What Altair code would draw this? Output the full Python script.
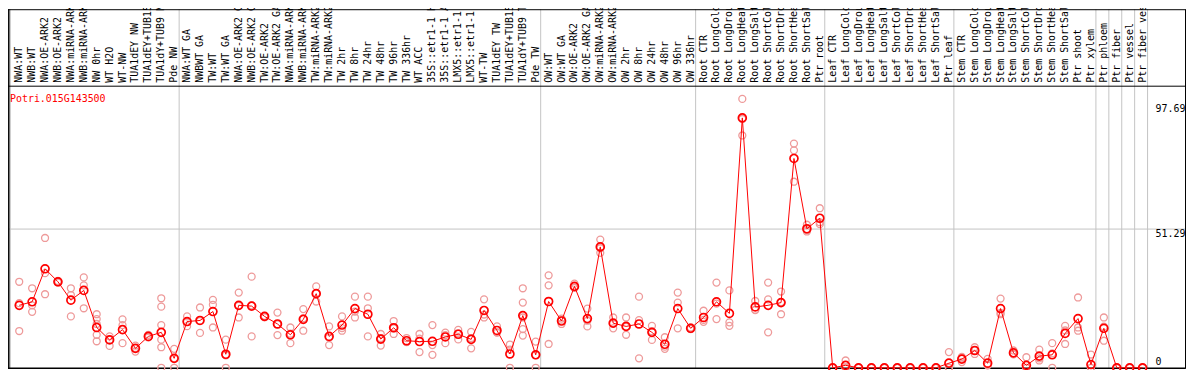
import altair as alt
import pandas as pd

# ---------------- data ----------------
gene = "Potri.015G143500"

samples = [
    "NWA:WT", "NWB:WT", "NWA:OE-ARK2", "NWB:OE-ARK2", "NWA:miRNA-ARK2", "NWB:miRNA-ARK2",
    "NW 0hr", "WT H2O", "WT-NW", "TUA1dEY NW", "TUA1dEY+TUB15 NW", "TUA1dY+TUB9 NW", "Pde NW",
    "NWA:WT GA", "NWBWT GA", "TW:WT", "TW:WT GA", "NWA:OE-ARK2 GA", "NWB:OE-ARK2 GA",
    "TW:OE-ARK2", "TW:OE-ARK2 GA", "NWA:miRNA-ARK2", "NWB:miRNA-ARK2", "TW:miRNA-ARK2",
    "TW:miRNA-ARK2 ", "TW 2hr", "TW 8hr", "TW 24hr", "TW 48hr", "TW 96hr", "TW 336hr",
    "WT ACC", "35S::etr1-1 H2O", "35S::etr1-1 ACC", "LMX5::etr1-1 H2O", "LMX5::etr1-1 ACC",
    "WT-TW", "TUA1dEY TW", "TUA1dEY+TUB15 TW", "TUA1dY+TUB9 TW", "Pde TW",
    "OW:WT", "OW:WT GA", "OW:OE-ARK2", "OW:OE-ARK2 GA", "OW:miRNA-ARK2", "OW:miRNA-ARK2 ",
    "OW 2hr", "OW 8hr", "OW 24hr", "OW 48hr", "OW 96hr", "OW 336hr",
    "Root CTR", "Root LongCold", "Root LongDrought", "Root LongHeat", "Root LongSalt",
    "Root ShortCold", "Root ShortDrought", "Root ShortHeat", "Root ShortSalt", "Ptr root",
    "Leaf CTR", "Leaf LongCold", "Leaf LongDrought", "Leaf LongHeat", "Leaf LongSalt",
    "Leaf ShortCold", "Leaf ShortDrought", "Leaf ShortHeat", "Leaf ShortSalt", "Ptr leaf",
    "Stem CTR", "Stem LongCold", "Stem LongDrought", "Stem LongHeat", "Stem LongSalt",
    "Stem ShortCold", "Stem ShortDrought", "Stem ShortHeat", "Stem ShortSalt", "Ptr shoot",
    "Ptr xylem", "Ptr phloem", "Ptr fiber", "Ptr vessel", "Ptr fiber vessel",
]

means = [
    23.1, 24.4, 36.6, 31.8, 25.0, 28.6, 14.9, 10.3, 14.1, 7.2, 11.6, 13.1, 3.5,
    17.1, 17.5, 20.8, 5.0, 23.1, 22.8, 19.0, 16.2, 12.2, 17.9, 27.4, 11.6, 15.8,
    21.9, 19.8, 10.6, 14.8, 10.0, 9.7, 9.8, 11.4, 12.4, 10.5, 21.2, 13.8, 5.1, 19.3, 4.8,
    24.5, 17.3, 30.1, 18.2, 44.7, 16.5, 15.3, 16.2, 13.1, 8.7, 21.9, 14.6,
    18.6, 24.4, 20.1, 92.4, 22.5, 23.1, 24.1, 77.4, 51.4, 55.3,
    0.0, 0.9, 0.0, 0.0, 0.0, 0.0, 0.0, 0.0, 0.0, 1.7,
    3.2, 6.4, 1.7, 21.9, 5.5, 0.9, 4.3, 4.8, 12.7, 18.2, 1.2,
    14.6, 0.0, 0.0, 0.0,
]

replicates = [
    [31.8, 23.9, 13.6], [29.4, 23.1, 20.7], [48.0, 35.0, 27.2], [32.1, 31.8, 31.5],
    [29.4, 26.9, 19.0], [33.4, 30.5, 22.0], [19.8, 18.0, 16.2, 12.2, 9.8], [11.6, 10.3, 8.1],
    [17.9, 15.8, 9.1], [8.2, 7.3, 6.0], [12.2, 11.3, 11.3], [25.7, 22.6, 15.8, 10.4, 7.6, 0.0],
    [7.0, 3.5, 0.0],
    [19.0, 17.0, 15.4], [22.3, 17.3, 12.9], [25.1, 23.3, 14.9], [10.4, 4.6, 0.0],
    [27.8, 22.9, 18.6], [33.7, 23.1, 11.6], [19.2, 19.1, 18.7], [20.4, 16.1, 12.1],
    [14.9, 12.6, 9.1], [21.7, 18.3, 13.7], [30.1, 27.6, 24.5], [15.3, 11.1, 8.4],
    [19.0, 14.7, 13.7], [26.3, 20.8, 18.6], [26.3, 22.0, 11.6], [12.5, 11.0, 8.2],
    [17.3, 14.6, 12.5], [11.0, 9.6, 9.5], [12.5, 10.8, 5.8], [15.8, 8.4, 4.8],
    [13.0, 12.1, 9.1], [14.0, 12.7, 10.5], [13.3, 11.0, 7.2], [25.3, 19.7, 18.6],
    [15.3, 13.1, 13.0], [8.6, 6.7, 0.0], [29.4, 24.1, 18.6, 14.3, 11.9], [9.7, 4.7, 0.0],
    [34.2, 30.5, 8.8], [18.2, 17.5, 16.2], [31.1, 29.7, 29.5], [21.9, 17.4, 15.3],
    [47.4, 44.2, 42.5], [18.6, 16.3, 14.6], [18.6, 15.1, 12.2], [26.3, 17.6, 3.5],
    [15.5, 13.5, 10.3], [11.3, 7.8, 7.0], [27.8, 24.1, 14.6], [14.9, 14.6, 14.3],
    [21.1, 17.7, 17.0], [31.5, 23.7, 18.0], [28.6, 16.8, 15.5], [99.4, 92.0, 85.9],
    [24.7, 21.5, 21.3], [31.5, 25.3, 13.1], [28.2, 24.3, 19.8], [82.9, 80.4, 68.8],
    [52.9, 50.9, 50.4], [59.0, 53.8, 53.1],
    [0.0, 0.0, 0.0], [2.7, 0.0, 0.0], [0.0, 0.0, 0.0], [0.0, 0.0, 0.0], [0.0, 0.0, 0.0],
    [0.0, 0.0, 0.0], [0.0, 0.0, 0.0], [0.0, 0.0, 0.0], [0.0, 0.0, 0.0], [5.8, 0.0, 0.0],
    [4.0, 3.5, 2.1], [7.6, 6.4, 5.1], [3.3, 1.0, 0.9], [25.6, 20.3, 19.8], [6.4, 5.1, 5.0],
    [3.9, 0.0, 0.0], [6.7, 3.5, 2.7], [9.1, 5.3, 0.0], [15.5, 13.8, 8.8], [26.0, 14.9, 13.7],
    [4.9, 0.0, 0.0],
    [18.6, 15.2, 10.0], [0.0, 0.0, 0.0], [0.0, 0.0, 0.0], [0.0, 0.0, 0.0],
]

group_sizes = [13, 28, 12, 10, 10, 11, 1, 1, 1, 1]
y_ticks = [97.69, 51.29, 0]
grid_value = [51.29]

# ---------------- layout ----------------
W, H = 1186, 362
FONT = "DejaVu Sans Mono"
n = len(samples)

x_scale = alt.Scale(domain=[0, n - 1], range=[11.3, 1142.3], nice=False, zero=False)
y_scale = alt.Scale(domain=[0, 97.69], range=[361, 95], nice=False, zero=False)


def X(f):
    return alt.X(f, type="quantitative", scale=x_scale, axis=None)


def Y(f):
    return alt.Y(f, type="quantitative", scale=y_scale, axis=None)


mean_df = pd.DataFrame({"i": list(range(n)), "sample": samples, "value": means})
rep_df = pd.DataFrame(
    [{"i": i, "value": v} for i, reps in enumerate(replicates) for v in reps]
)

bounds = [-0.69]
c = 0
for g in group_sizes:
    c += g
    bounds.append(c - 1 + 0.385)
grid_df = pd.DataFrame({"b": bounds})
hgrid_df = pd.DataFrame({"v": grid_value})
tick_df = pd.DataFrame({"v": y_ticks, "label": [str(t) if t else "0" for t in y_ticks]})
dummy = pd.DataFrame({"a": [0]})

vgrid = alt.Chart(grid_df).mark_rule(color="#c4c4c4", strokeWidth=1).encode(
    x=X("b"), y=alt.value(0), y2=alt.value(H)
)
hgrid = alt.Chart(hgrid_df).mark_rule(color="#c4c4c4", strokeWidth=1).encode(
    y=Y("v"), x=alt.value(0), x2=alt.value(W - 1)
)

frame_top = alt.Chart(dummy).mark_rule(color="black", strokeWidth=1).encode(
    x=alt.value(0), x2=alt.value(W - 0.5), y=alt.value(0.5)
)
frame_sep = alt.Chart(dummy).mark_rule(color="black", strokeWidth=1).encode(
    x=alt.value(0), x2=alt.value(W - 0.5), y=alt.value(77.5)
)
frame_bot = alt.Chart(dummy).mark_rule(color="black", strokeWidth=1.5).encode(
    x=alt.value(0), x2=alt.value(W - 0.5), y=alt.value(361.5)
)
frame_left = alt.Chart(dummy).mark_rule(color="black", strokeWidth=1.5).encode(
    x=alt.value(0.8), y=alt.value(0), y2=alt.value(362)
)
frame_right = alt.Chart(dummy).mark_rule(color="black", strokeWidth=1).encode(
    x=alt.value(W - 0.5), y=alt.value(0), y2=alt.value(362)
)

labels = alt.Chart(mean_df).mark_text(
    angle=270, align="left", baseline="middle", font=FONT, fontSize=10, color="black"
).encode(x=X("i"), y=alt.value(74), text=alt.Text("sample:N"))

reps = alt.Chart(rep_df).mark_point(
    shape="circle", filled=False, size=49, color="#ee9a9a", strokeWidth=1.3, opacity=1
).encode(x=X("i"), y=Y("value"))

line = alt.Chart(mean_df).mark_line(color="#ff0000", strokeWidth=1).encode(
    x=X("i"), y=Y("value")
)

pts = alt.Chart(mean_df).mark_point(
    shape="circle", filled=False, size=64, color="#ff0000", strokeWidth=1.7, opacity=1
).encode(x=X("i"), y=Y("value"))

ylab_hi = alt.Chart(tick_df).transform_filter("datum.v > 0").mark_text(
    align="left", baseline="alphabetic", dy=8, font=FONT, fontSize=10, color="black"
).encode(x=alt.value(1155.3), y=Y("v"), text="label:N")
ylab_zero = alt.Chart(tick_df).transform_filter("datum.v == 0").mark_text(
    align="left", baseline="alphabetic", dy=-3, font=FONT, fontSize=10, color="black"
).encode(x=alt.value(1155.3), y=Y("v"), text="label:N")

title = alt.Chart(pd.DataFrame({"t": [gene]})).mark_text(
    align="left", baseline="alphabetic", font=FONT, fontSize=10, color="#ff0000"
).encode(x=alt.value(2), y=alt.value(93), text="t:N")

chart = alt.layer(
    vgrid, hgrid, frame_top, frame_sep, frame_bot, frame_left, frame_right,
    labels, reps, line, pts, ylab_hi, ylab_zero, title,
).properties(
    width=W, height=H, padding=0, autosize=alt.AutoSizeParams(type="none")
).configure_view(strokeWidth=0)

chart.save("out.html", embed_options={"renderer": "svg", "actions": False})
